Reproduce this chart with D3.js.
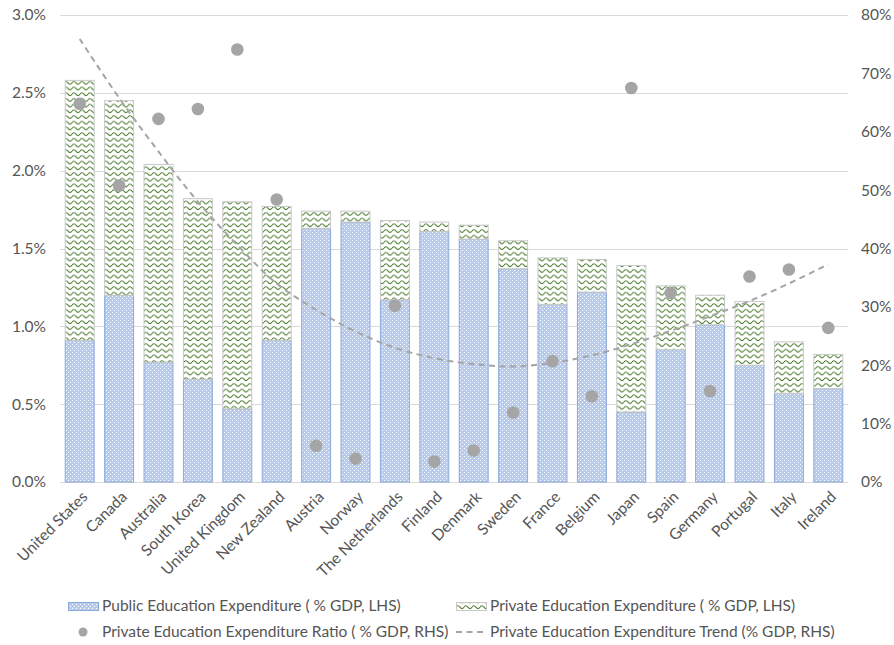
<!DOCTYPE html>
<html>
<head>
<meta charset="utf-8">
<script src="https://cdn.jsdelivr.net/npm/d3@7"></script>
<style>
  html, body { margin: 0; padding: 0; background: #ffffff; }
  svg { display: block; font-family: Lato, "Open Sans", sans-serif; }
</style>
</head>
<body>
<svg id="chart" width="894" height="645"></svg>
<script>
const categories = ["United States","Canada","Australia","South Korea","United Kingdom","New Zealand","Austria","Norway","The Netherlands","Finland","Denmark","Sweden","France","Belgium","Japan","Spain","Germany","Portugal","Italy","Ireland"];
const publicExp  = [0.91,1.20,0.77,0.66,0.47,0.91,1.63,1.67,1.17,1.61,1.56,1.37,1.14,1.22,0.45,0.85,1.01,0.75,0.57,0.60];
const privateExp = [1.67,1.25,1.27,1.16,1.33,0.86,0.11,0.07,0.51,0.06,0.09,0.18,0.30,0.21,0.94,0.41,0.19,0.41,0.33,0.22];
const privateRatio = [64.8,50.8,62.2,63.9,74.1,48.4,6.2,4.0,30.2,3.5,5.4,11.9,20.7,14.7,67.5,32.4,15.6,35.2,36.4,26.4];
const trendValues  = [75.9,65.8,56.6,48.0,40.6,34.0,29.5,25.8,23.0,21.2,20.2,19.8,20.4,21.7,23.6,25.9,28.4,31.0,34.0,37.3];
const leftTicks  = [0,0.5,1.0,1.5,2.0,2.5,3.0];
const rightTicks = [0,10,20,30,40,50,60,70,80];
const legendLabels = [
  "Public Education Expenditure ( % GDP, LHS)",
  "Private Education Expenditure ( % GDP, LHS)",
  "Private Education Expenditure Ratio ( % GDP, RHS)",
  "Private Education Expenditure Trend (% GDP, RHS)"
];

const svg = d3.select("#chart");
const textColor = "#555555";
const gridColor = "#d9d9d9";
const dotColor = "#a5a5a5";
const fontSize = "15.5px";

// patterns
const defs = svg.append("defs");
const pPub = defs.append("pattern").attr("id","pubPat").attr("patternUnits","userSpaceOnUse")
  .attr("width",4).attr("height",4);
pPub.append("rect").attr("width",4).attr("height",4).attr("fill","#b9cbeb");
pPub.append("rect").attr("x",0).attr("y",0).attr("width",1).attr("height",1).attr("fill","#ffffff");
pPub.append("rect").attr("x",2).attr("y",2).attr("width",1).attr("height",1).attr("fill","#ffffff");

const pPriv = defs.append("pattern").attr("id","privPat").attr("patternUnits","userSpaceOnUse")
  .attr("width",8).attr("height",5.7);
pPriv.append("rect").attr("width",8).attr("height",5.7).attr("fill","#ffffff");
pPriv.append("path").attr("d","M0,3 Q2,0.3 4,3 T8,3").attr("fill","none")
  .attr("stroke","#4a7a2c").attr("stroke-width",1.1);

const x = d3.scaleBand().domain(categories).range([60,848]).paddingInner(0.24).paddingOuter(0.12);
const yL = d3.scaleLinear().domain([0,3.0]).range([482,15]);
const yR = d3.scaleLinear().domain([0,80]).range([482,15]);

// gridlines
svg.append("g").selectAll("line").data(leftTicks).join("line")
  .attr("x1",60).attr("x2",848)
  .attr("y1",d=>Math.round(yL(d))+0.5).attr("y2",d=>Math.round(yL(d))+0.5)
  .attr("stroke",gridColor).attr("stroke-width",1);

// left axis
const leftAxis = d3.axisLeft(yL).tickValues(leftTicks).tickSize(0).tickPadding(0)
  .tickFormat(d=>d.toFixed(1)+"%");
const gL = svg.append("g").attr("transform","translate(46,0)").call(leftAxis);
gL.select(".domain").remove();
gL.selectAll("text").attr("fill",textColor).style("font-size",fontSize).style("font-family","Lato, sans-serif");

// right axis
const rightAxis = d3.axisRight(yR).tickValues(rightTicks).tickSize(0).tickPadding(0)
  .tickFormat(d=>d+"%");
const gR = svg.append("g").attr("transform","translate(861,0)").call(rightAxis);
gR.select(".domain").remove();
gR.selectAll("text").attr("fill",textColor).style("font-size",fontSize).style("font-family","Lato, sans-serif");

// bars
const bars = svg.append("g");
categories.forEach((c,i)=>{
  const x0 = x(c), w = x.bandwidth();
  const pubTop = yL(publicExp[i]);
  const totTop = yL(publicExp[i]+privateExp[i]);
  bars.append("rect").attr("x",x0+0.5).attr("y",pubTop).attr("width",w-1).attr("height",yL(0)-pubTop)
    .attr("fill","url(#pubPat)").attr("stroke","#8eaadb").attr("stroke-width",1);
  bars.append("rect").attr("x",x0+0.5).attr("y",totTop).attr("width",w-1).attr("height",pubTop-totTop)
    .attr("fill","url(#privPat)").attr("stroke","#c9c9c9").attr("stroke-width",1);
});

// trend line
const line = d3.line().x((d,i)=>x(categories[i])+x.bandwidth()/2).y(d=>yR(d)).curve(d3.curveCatmullRom.alpha(0.5));
svg.append("path").datum(trendValues).attr("d",line).attr("fill","none")
  .attr("stroke",dotColor).attr("stroke-width",2).attr("stroke-dasharray","6,4.5");

// dots
svg.append("g").selectAll("circle").data(privateRatio).join("circle")
  .attr("cx",(d,i)=>x(categories[i])+x.bandwidth()/2).attr("cy",d=>yR(d)).attr("r",6.3)
  .attr("fill",dotColor);

// x labels
svg.append("g").selectAll("text").data(categories).join("text")
  .attr("transform",c=>`translate(${x(c)+x.bandwidth()/2+5},${494}) rotate(-45)`)
  .attr("text-anchor","end").attr("dy","0.35em")
  .attr("fill",textColor).style("font-size",fontSize)
  .text(c=>c);

// legend
const lg = svg.append("g").style("font-size",fontSize);
lg.append("rect").attr("x",68.5).attr("y",602.5).attr("width",30).attr("height",8)
  .attr("fill","url(#pubPat)").attr("stroke","#8eaadb");
lg.append("text").attr("x",102).attr("y",606).attr("dy","0.35em").attr("fill",textColor).text(legendLabels[0]);
lg.append("rect").attr("x",456.5).attr("y",602.5).attr("width",30).attr("height",8)
  .attr("fill","url(#privPat)").attr("stroke","#c9c9c9");
lg.append("text").attr("x",490).attr("y",606).attr("dy","0.35em").attr("fill",textColor).text(legendLabels[1]);
lg.append("circle").attr("cx",83).attr("cy",632).attr("r",4.5).attr("fill",dotColor);
lg.append("text").attr("x",102).attr("y",632).attr("dy","0.35em").attr("fill",textColor).text(legendLabels[2]);
lg.append("line").attr("x1",456).attr("x2",487).attr("y1",632).attr("y2",632)
  .attr("stroke",dotColor).attr("stroke-width",2).attr("stroke-dasharray","6,4.5");
lg.append("text").attr("x",490).attr("y",632).attr("dy","0.35em").attr("fill",textColor).text(legendLabels[3]);
</script>
</body>
</html>
